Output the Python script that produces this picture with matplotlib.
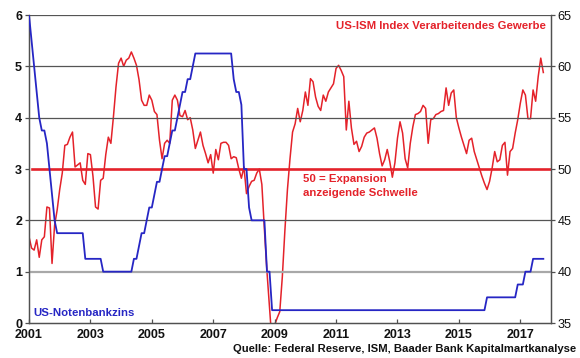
import numpy as np
import matplotlib
matplotlib.use("Agg")
import matplotlib.pyplot as plt

plt.rcParams['font.family'] = ['Liberation Sans', 'DejaVu Sans']

# ---------------- data (monthly, Jan 2001 .. Oct 2017) ----------------
start_year = 2001

ism_2001 = [43.4, 42.3, 42.1, 43.1, 41.4, 43.1, 43.4, 46.3, 46.2, 40.8, 44.5, 46.0]
ism_2002 = [48.0, 49.6, 52.3, 52.4, 53.1, 53.6, 50.2, 50.4, 50.6, 48.9, 48.5, 51.5]
ism_2003 = [51.4, 49.3, 46.3, 46.1, 48.9, 49.1, 51.4, 53.1, 52.5, 55.1, 58.0, 60.3]
ism_2004 = [60.8, 60.0, 60.6, 60.8, 61.4, 60.8, 60.1, 58.7, 56.7, 56.2, 56.2, 57.2]
ism_2005 = [56.7, 55.6, 55.3, 52.8, 51.0, 52.5, 52.8, 52.5, 56.7, 57.2, 56.7, 55.2]
ism_2006 = [55.1, 55.7, 54.8, 55.0, 53.8, 52.0, 52.8, 53.6, 52.3, 51.5, 50.6, 51.4]
ism_2007 = [49.6, 51.9, 50.9, 52.5, 52.6, 52.6, 52.3, 51.0, 51.2, 51.1, 50.0, 49.1]
ism_2008 = [50.2, 47.6, 48.3, 48.8, 48.9, 49.6, 50.0, 48.5, 44.1, 40.0, 36.5, 33.0]
ism_2009 = [34.8, 35.5, 36.1, 39.5, 44.0, 48.0, 51.0, 53.6, 54.4, 55.9, 54.6, 55.7]
ism_2010 = [57.5, 56.2, 58.8, 58.5, 57.0, 56.1, 55.7, 57.2, 56.6, 57.5, 57.9, 58.3]
ism_2011 = [59.8, 60.1, 59.6, 59.0, 53.8, 56.6, 54.0, 52.4, 52.7, 51.7, 52.2, 53.1]
ism_2012 = [53.5, 53.6, 53.8, 54.0, 53.0, 51.5, 50.3, 50.9, 51.9, 50.7, 49.2, 50.6]
ism_2013 = [53.0, 54.6, 53.5, 51.0, 50.1, 52.5, 54.1, 55.3, 55.4, 55.6, 56.2, 55.9]
ism_2014 = [52.5, 54.8, 54.9, 55.3, 55.4, 55.6, 55.7, 57.9, 56.2, 57.4, 57.7, 55.0]
ism_2015 = [54.0, 53.1, 52.3, 51.5, 52.8, 53.0, 51.7, 50.9, 50.1, 49.3, 48.6, 48.0]
ism_2016 = [48.8, 50.1, 51.7, 50.7, 50.9, 52.3, 52.6, 49.4, 51.7, 52.0, 53.5, 54.8]
ism_2017 = [56.4, 57.7, 57.2, 54.9, 54.9, 57.7, 56.6, 59.0, 60.8, 59.4]

fed_2001 = [6.0, 5.5, 5.0, 4.5, 4.0, 3.75, 3.75, 3.5, 3.0, 2.5, 2.0, 1.75]
fed_2002 = [1.75] * 10 + [1.25, 1.25]
fed_2003 = [1.25] * 5 + [1.0] * 7
fed_2004 = [1.0] * 5 + [1.25, 1.25, 1.5, 1.75, 1.75, 2.0, 2.25]
fed_2005 = [2.25, 2.5, 2.75, 2.75, 3.0, 3.25, 3.25, 3.5, 3.75, 3.75, 4.0, 4.25]
fed_2006 = [4.5, 4.5, 4.75, 4.75, 5.0] + [5.25] * 7
fed_2007 = [5.25] * 8 + [4.75, 4.5, 4.5, 4.25]
fed_2008 = [3.0, 3.0, 2.25, 2.0, 2.0, 2.0, 2.0, 2.0, 2.0, 1.0, 1.0, 0.25]
fed_2009_2014 = [0.25] * 72
fed_2015 = [0.25] * 11 + [0.5]
fed_2016 = [0.5] * 11 + [0.75]
fed_2017 = [0.75, 0.75, 1.0, 1.0, 1.0, 1.25, 1.25, 1.25, 1.25, 1.25]

ism = (ism_2001 + ism_2002 + ism_2003 + ism_2004 + ism_2005 + ism_2006 + ism_2007 +
       ism_2008 + ism_2009 + ism_2010 + ism_2011 + ism_2012 + ism_2013 + ism_2014 +
       ism_2015 + ism_2016 + ism_2017)
fed = (fed_2001 + fed_2002 + fed_2003 + fed_2004 + fed_2005 + fed_2006 + fed_2007 +
       fed_2008 + fed_2009_2014 + fed_2015 + fed_2016 + fed_2017)

x_ism = start_year + np.arange(len(ism)) / 12.0
x_fed = start_year + np.arange(len(fed)) / 12.0

threshold = 50
x_ticks = [2001, 2003, 2005, 2007, 2009, 2011, 2013, 2015, 2017]
left_ticks = [0, 1, 2, 3, 4, 5, 6]
right_ticks = [35, 40, 45, 50, 55, 60, 65]

RED = '#e4222a'
BLUE = '#2626c4'
GRID = '#555555'

# ---------------- figure ----------------
W, H = 580, 358
fig = plt.figure(figsize=(W / 100, H / 100), dpi=100)
ax = fig.add_axes([29 / W, 1 - 323 / H, (551 - 29) / W, (323 - 15) / H])
ax2 = ax.twinx()

ax.set_xlim(2001, 2018)
ax.set_ylim(0, 6)
ax2.set_ylim(35, 65)

# grid
for v in left_ticks:
    if v == 0 or v == 3:
        continue
    if v == 1:
        ax.axhline(v, color='#a8a8a8', lw=1.6, zorder=0)
    else:
        ax.axhline(v, color=GRID, lw=0.9, zorder=0)

# threshold line
ax2.axhline(threshold, xmin=0.006, xmax=1, color=RED, lw=1.9, zorder=1)

# series
ax2.plot(x_ism, ism, color=RED, lw=1.1, zorder=2)
ax.plot(x_fed, fed, color=BLUE, lw=1.3, zorder=3)
ax.set_zorder(ax2.get_zorder() + 1)
ax.patch.set_visible(False)

# spines
for a in (ax, ax2):
    a.spines['top'].set_visible(False)
    for s in ('left', 'right', 'bottom'):
        a.spines[s].set_color('#505050')
        a.spines[s].set_linewidth(0.9)

tick_font = dict(fontsize=9, fontweight='bold')
ax.set_xticks(x_ticks)
ax.set_xticklabels([str(t) for t in x_ticks], **tick_font)
ax.set_yticks(left_ticks)
ax.set_yticklabels([str(t) for t in left_ticks], **tick_font)
ax2.set_yticks(right_ticks)
ax2.set_yticklabels([str(t) for t in right_ticks], fontsize=9.2)

ax.tick_params(axis='x', direction='in', length=3, width=0.9, color='#505050', pad=4.5,
               labelcolor='#111111')
ax.tick_params(axis='y', direction='out', length=3, width=0.9, color='#505050', pad=2,
               labelcolor='#111111')
ax2.tick_params(axis='y', direction='out', length=3, width=0.9, color='#505050', pad=1.5,
                labelcolor='#111111')

# texts
fig.text(546 / W, 1 - 26 / H, 'US-ISM Index Verarbeitendes Gewerbe', color=RED,
         fontsize=8.2, fontweight='bold', ha='right', va='center')
fig.text(303 / W, 1 - 179 / H, '50 = Expansion', color=RED,
         fontsize=8.2, fontweight='bold', ha='left', va='center')
fig.text(303 / W, 1 - 193 / H, 'anzeigende Schwelle', color=RED,
         fontsize=8.2, fontweight='bold', ha='left', va='center')
fig.text(33 / W, 1 - 313 / H, 'US-Notenbankzins', color=BLUE,
         fontsize=8.2, fontweight='bold', ha='left', va='center')
fig.text(576 / W, 1 - 349 / H, 'Quelle: Federal Reserve, ISM, Baader Bank Kapitalmartkanalyse',
         color='#111111', fontsize=8.1, fontweight='bold', ha='right', va='center')

fig.savefig('out.png', dpi=100)
